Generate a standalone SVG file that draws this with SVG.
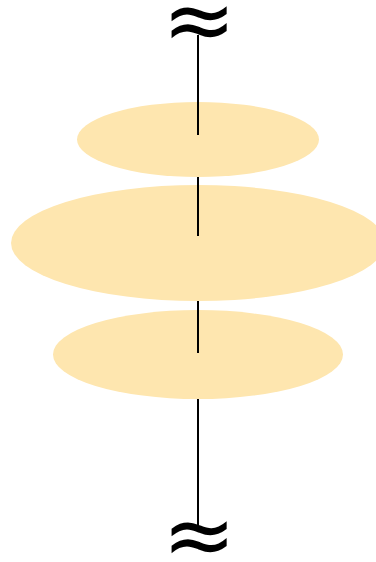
<svg xmlns="http://www.w3.org/2000/svg" width="376" height="562" viewBox="0 0 376 562">
<style>
.blob{fill:#FEE6AF;stroke:none}
.conn{stroke:#000;stroke-width:2;fill:none}
.brk{font-family:"DejaVu Sans",sans-serif;font-size:88px;text-anchor:middle;fill:#000}
</style>
<rect width="376" height="562" fill="#fff"/>
<g id="node-top"><text class="brk" x="199" y="49.5">≈</text></g>
<g id="node-e1"><ellipse class="blob" cx="198" cy="139.5" rx="121" ry="37.5"/></g>
<g id="node-e2"><ellipse class="blob" cx="198" cy="243" rx="187" ry="58"/></g>
<g id="node-e3"><ellipse class="blob" cx="198" cy="354.5" rx="145" ry="44.5"/></g>
<g id="node-bottom"><text class="brk" x="199" y="564.5">≈</text></g>
<g id="connectors">
<line class="conn" x1="198" y1="35" x2="198" y2="135"/>
<line class="conn" x1="198" y1="177" x2="198" y2="236"/>
<line class="conn" x1="198" y1="301" x2="198" y2="353"/>
<line class="conn" x1="198" y1="399" x2="198" y2="526"/>
</g>
</svg>
